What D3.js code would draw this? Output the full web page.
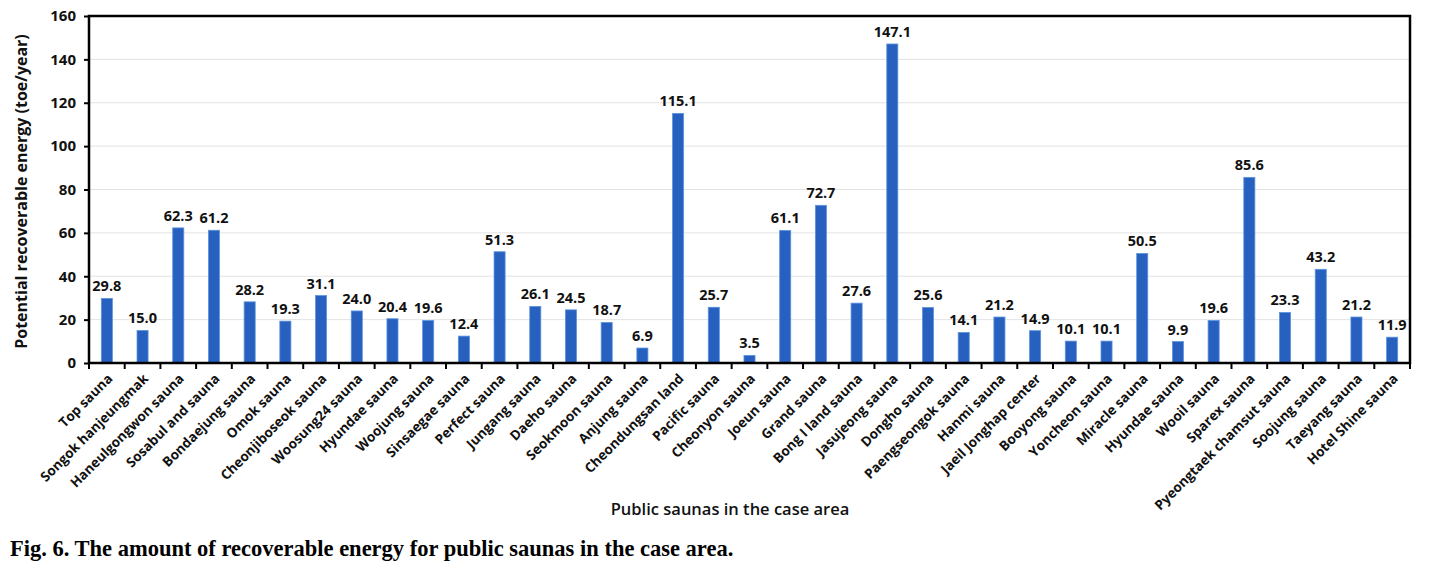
<!DOCTYPE html>
<html>
<head>
<meta charset="utf-8">
<script src="https://cdn.jsdelivr.net/npm/d3@7"></script>
<style>
  body { margin: 0; background: #fff; }
  text { font-family: "Open Sans", "Noto Sans", sans-serif; }
</style>
</head>
<body>
<div id="chart"></div>
<script>
// Data
var saunas = ["Top sauna", "Songok hanjeungmak", "Haneulgongwon sauna", "Sosabul and sauna",
  "Bondaejung sauna", "Omok sauna", "Cheonjiboseok sauna", "Woosung24 sauna", "Hyundae sauna",
  "Woojung sauna", "Sinsaegae sauna", "Perfect sauna", "Jungang sauna", "Daeho sauna",
  "Seokmoon sauna", "Anjung sauna", "Cheondungsan land", "Pacific sauna", "Cheonyon sauna",
  "Joeun sauna", "Grand sauna", "Bong I land sauna", "Jasujeong sauna", "Dongho sauna",
  "Paengseongok sauna", "Hanmi sauna", "Jaeil Jonghap center", "Booyong sauna", "Yoncheon sauna",
  "Miracle sauna", "Hyundae sauna", "Wooil sauna", "Sparex sauna", "Pyeongtaek chamsut sauna",
  "Soojung sauna", "Taeyang sauna", "Hotel Shine sauna"]
var energy = [29.8, 15.0, 62.3, 61.2, 28.2, 19.3, 31.1, 24.0, 20.4, 19.6, 12.4, 51.3, 26.1, 24.5,
  18.7, 6.9, 115.1, 25.7, 3.5, 61.1, 72.7, 27.6, 147.1, 25.6, 14.1, 21.2, 14.9, 10.1, 10.1,
  50.5, 9.9, 19.6, 85.6, 23.3, 43.2, 21.2, 11.9]
var yTicks = [0, 20, 40, 60, 80, 100, 120, 140, 160]

var width = 1430
var height = 565
// plot area edges (note: "top" is a reserved window property, so use other names)
var plotLeft = 89, plotRight = 1410, plotTop = 16, plotBottom = 363

var svg = d3.select('#chart').append('svg')
  .attr('width', width)
  .attr('height', height)

var idx = d3.range(saunas.length)

var xScale = d3.scaleBand()
  .domain(idx)
  .range([plotLeft, plotRight])
  .paddingInner(0.69)
  .paddingOuter(0.345)

var yScale = d3.scaleLinear()
  .domain([0, 160])
  .range([plotBottom, plotTop])

// gridlines
svg.append('g')
  .selectAll('line')
  .data(yTicks.slice(1, -1))
  .enter()
  .append('line')
  .attr('x1', plotLeft)
  .attr('x2', plotRight)
  .attr('y1', d => yScale(d))
  .attr('y2', d => yScale(d))
  .attr('stroke', '#e3e3e3')
  .attr('stroke-width', 1)

// bars
svg.append('g')
  .selectAll('rect')
  .data(idx)
  .enter()
  .append('rect')
  .attr('x', i => xScale(i))
  .attr('y', i => yScale(energy[i]))
  .attr('width', xScale.bandwidth())
  .attr('height', i => plotBottom - yScale(energy[i]))
  .attr('fill', '#2760bf')
  .attr('stroke', '#5b94de')
  .attr('stroke-width', 0.8)

// value labels
svg.append('g')
  .selectAll('text')
  .data(idx)
  .enter()
  .append('text')
  .attr('x', i => xScale(i) + xScale.bandwidth() / 2)
  .attr('y', i => yScale(energy[i]) - 7)
  .attr('text-anchor', 'middle')
  .attr('font-size', 14.5)
  .attr('font-weight', 'bold')
  .attr('fill', '#111')
  .text(i => energy[i].toFixed(1))

// plot frame
svg.append('rect')
  .attr('x', plotLeft)
  .attr('y', plotTop)
  .attr('width', plotRight - plotLeft)
  .attr('height', plotBottom - plotTop)
  .attr('fill', 'none')
  .attr('stroke', '#000')
  .attr('stroke-width', 2.5)

// y axis
var yAxis = d3.axisLeft(yScale)
  .tickValues(yTicks)
  .tickSize(5)
  .tickPadding(8)
var yg = svg.append('g')
  .attr('transform', 'translate(' + plotLeft + ',0)')
  .call(yAxis)
yg.select('.domain').remove()
yg.selectAll('.tick line').attr('stroke', '#000').attr('stroke-width', 2)
yg.selectAll('.tick text')
  .attr('font-size', 15)
  .attr('font-weight', 'bold')
  .attr('fill', '#111')
  .style('font-family', '"Open Sans", sans-serif')

// x axis ticks at category boundaries
var boundaries = d3.range(saunas.length + 1).map(i => plotLeft + i * (plotRight - plotLeft) / saunas.length)
svg.append('g')
  .selectAll('line')
  .data(boundaries)
  .enter()
  .append('line')
  .attr('x1', d => d)
  .attr('x2', d => d)
  .attr('y1', plotBottom)
  .attr('y2', plotBottom + 6)
  .attr('stroke', '#000')
  .attr('stroke-width', 2)

// x category labels
svg.append('g')
  .selectAll('text')
  .data(idx)
  .enter()
  .append('text')
  .attr('transform', i => 'translate(' + (xScale(i) + xScale.bandwidth() / 2 + 4) + ',' + (plotBottom + 14) + ') rotate(-45)')
  .attr('text-anchor', 'end')
  .attr('dominant-baseline', 'middle')
  .attr('font-size', 13.5)
  .attr('font-weight', 'bold')
  .attr('fill', '#111')
  .text(i => saunas[i])

// axis titles
svg.append('text')
  .attr('transform', 'translate(27,' + ((plotTop + plotBottom) / 2 + 2) + ') rotate(-90)')
  .attr('text-anchor', 'middle')
  .attr('font-size', 16)
  .attr('font-weight', 'bold')
  .attr('fill', '#111')
  .text('Potential recoverable energy (toe/year)')

svg.append('text')
  .attr('x', 730)
  .attr('y', 515)
  .attr('text-anchor', 'middle')
  .attr('font-size', 16.5)
  .attr('font-weight', 600)
  .attr('fill', '#111')
  .text('Public saunas in the case area')

// caption
svg.append('text')
  .attr('x', 10)
  .attr('y', 556)
  .attr('font-size', 22.5)
  .attr('font-weight', 'bold')
  .attr('fill', '#000')
  .style('font-family', '"Liberation Serif", "Times New Roman", serif')
  .text('Fig. 6. The amount of recoverable energy for public saunas in the case area.')
</script>
</body>
</html>
